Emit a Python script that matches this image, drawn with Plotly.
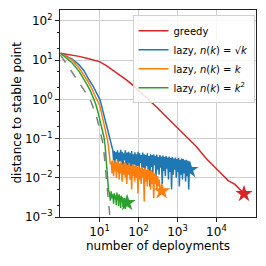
import plotly.graph_objects as go

# ---------------- data ----------------
greedy_k = [1, 2, 3, 5, 7, 10, 15, 20, 30, 50, 70, 100, 150, 200, 300, 500, 700,
            1000, 1400, 2000, 3000, 5600, 10000, 20000, 30000, 51000]
greedy_d = [15, 13.5, 12.5, 11, 10.2, 9.2, 7.3, 6.0, 4.5, 3.1, 2.35, 1.7, 1.2, 0.9,
            0.62, 0.37, 0.27, 0.19, 0.14, 0.095, 0.064, 0.03, 0.017, 0.0085, 0.0068, 0.0039]

sqrt_k = [1, 2, 3, 4, 5, 6, 7, 8, 9, 10, 11, 12, 13, 14, 15, 16, 17, 18, 19, 20, 21,
          22, 23, 24, 25, 26, 28, 29, 30, 32, 33, 35, 37, 38, 40, 42, 44, 46, 48, 51, 53,
          56, 58, 61, 64, 67, 70, 74, 77, 81, 85, 89, 93, 97, 102, 107, 112, 117, 123,
          128, 134, 141, 148, 155, 162, 169, 177, 186, 195, 204, 213, 223, 234, 245, 257,
          269, 281, 295, 309, 323, 338, 354, 371, 388, 407, 426, 446, 467, 489, 512, 536,
          561, 588, 615, 644, 675, 706, 740, 775, 811, 849, 889, 931, 975, 1021, 1069,
          1119, 1172, 1227, 1285, 1345, 1409, 1475, 1545, 1617, 1693, 1773, 1857, 1944,
          2036, 2090]
sqrt_d = [15, 10.7, 7.6, 5.4, 3.6, 2.75, 2.1, 1.6, 1.26, 1.05, 0.76, 0.54, 0.4, 0.3,
          0.23, 0.17, 0.135, 0.107, 0.087, 0.069, 0.057,
          0.05, 0.028, 0.048, 0.02, 0.045, 0.03, 0.05, 0.018, 0.044, 0.026,
          0.052, 0.022, 0.046, 0.016, 0.042, 0.028, 0.05, 0.02, 0.044, 0.014,
          0.046, 0.024, 0.042, 0.018, 0.048, 0.012, 0.04, 0.022, 0.045, 0.016,
          0.04, 0.02, 0.046, 0.009, 0.042, 0.024, 0.038, 0.014, 0.044, 0.018,
          0.04, 0.011, 0.038, 0.02, 0.042, 0.015, 0.036, 0.006, 0.04, 0.019,
          0.038, 0.013, 0.04, 0.021, 0.036, 0.01, 0.039, 0.016, 0.034, 0.012,
          0.038, 0.018, 0.035, 0.007, 0.037, 0.015, 0.034, 0.011, 0.036, 0.017,
          0.033, 0.009, 0.035, 0.014, 0.032, 0.005, 0.034, 0.012, 0.031, 0.016,
          0.033, 0.01, 0.03, 0.014, 0.032, 0.006, 0.029, 0.012, 0.031, 0.009,
          0.03, 0.013, 0.028, 0.008, 0.029, 0.011, 0.027, 0.005, 0.026, 0.016]

lin_k = [1, 2, 3, 4, 5, 6, 7, 8, 9, 10, 11, 12, 13, 14, 15, 16, 17, 18, 19,
         20, 21, 22, 23, 24, 25, 26, 27, 28, 29, 30, 32, 33, 35, 36, 38, 40, 42, 44, 46,
         48, 50, 53, 55, 58, 61, 64, 67, 70, 73, 77, 80, 84, 88, 92, 97, 101, 106, 111,
         117, 122, 128, 134, 141, 147, 154, 162, 169, 177, 186, 195, 204, 214, 224, 234,
         246, 257, 270, 282, 296, 310, 325, 340, 360, 395]
lin_d = [15, 10, 6.3, 4.2, 2.9, 2.1, 1.55, 1.2, 0.93, 0.71, 0.5, 0.35, 0.24, 0.166,
         0.123, 0.093, 0.063, 0.035, 0.022,
         0.026, 0.013, 0.028, 0.011, 0.024, 0.015, 0.029, 0.01, 0.025, 0.014,
         0.027, 0.009, 0.023, 0.013, 0.026, 0.008, 0.022, 0.012, 0.025, 0.01,
         0.023, 0.007, 0.021, 0.012, 0.024, 0.009, 0.02, 0.005, 0.022, 0.011,
         0.02, 0.008, 0.021, 0.01, 0.019, 0.004, 0.02, 0.009, 0.018, 0.007,
         0.019, 0.01, 0.017, 0.0025, 0.018, 0.008, 0.016, 0.006, 0.017, 0.009,
         0.015, 0.005, 0.016, 0.007, 0.014, 0.003, 0.013, 0.007, 0.012, 0.005,
         0.011, 0.006, 0.009, 0.004, 0.0046]

sq_k = [1, 2, 3, 4, 5, 6, 7, 8, 9, 10, 11, 12, 13, 14, 15, 16, 17,
        18, 19, 20, 21, 22, 23, 24, 25, 26, 27, 28, 29, 30, 31, 32, 33, 34, 35, 36, 38,
        39, 40, 42, 43, 44, 46, 48, 49, 51]
sq_d = [15, 8.5, 5.2, 3.3, 2.2, 1.55, 1.07, 0.76, 0.5, 0.33, 0.22, 0.15, 0.11, 0.063,
        0.025, 0.01, 0.005,
        0.004, 0.0026, 0.0045, 0.003, 0.0038, 0.0022, 0.004, 0.0028, 0.0035, 0.002,
        0.0042, 0.0027, 0.0036, 0.0019, 0.0038, 0.0025, 0.0034, 0.0017, 0.0035, 0.0024,
        0.0032, 0.0018, 0.003, 0.0021, 0.0031, 0.0016, 0.0028, 0.002, 0.0023]

bound_k = [1, 2, 3, 4, 5, 6, 7, 8, 9, 10, 11, 12, 13, 14, 15, 16, 17, 18, 19, 20]
bound_d = [13.5, 5.0, 2.75, 1.8, 1.25, 0.9, 0.63, 0.42, 0.28, 0.18, 0.126, 0.083,
           0.045, 0.022, 0.011, 0.0056, 0.0025, 0.0014, 0.0008, 0.00045]

series_names = ["greedy",
                "lazy, <i>n</i>(<i>k</i>) = √<i>k</i>",
                "lazy, <i>n</i>(<i>k</i>) = <i>k</i>",
                "lazy, <i>n</i>(<i>k</i>) = <i>k</i><sup>2</sup>"]
colors = ["#d62728", "#1f77b4", "#ff7f0e", "#2ca02c"]

x_tick_vals = [10, 100, 1000, 10000]
x_tick_text = ["10<sup>1</sup>", "10<sup>2</sup>", "10<sup>3</sup>", "10<sup>4</sup>"]
y_tick_vals = [0.001, 0.01, 0.1, 1, 10, 100]
y_tick_text = ["10<sup>−3</sup>", "10<sup>−2</sup>", "10<sup>−1</sup>",
               "10<sup>0</sup>", "10<sup>1</sup>", "10<sup>2</sup>"]

# ---------------- figure ----------------
fig = go.Figure()
all_k = [greedy_k, sqrt_k, lin_k, sq_k]
all_d = [greedy_d, sqrt_d, lin_d, sq_d]

fig.add_trace(go.Scatter(x=bound_k, y=bound_d, mode="lines", showlegend=False,
                         line=dict(color="#808080", width=1.5, dash="dash")))
for k, d, name, c in zip(all_k, all_d, series_names, colors):
    fig.add_trace(go.Scatter(x=k, y=d, mode="lines", name=name,
                             line=dict(color=c, width=1.5)))
for k, d, c in zip(all_k, all_d, colors):
    fig.add_trace(go.Scatter(x=[k[-1]], y=[d[-1]], mode="markers", showlegend=False,
                             marker=dict(symbol="star", size=13, color=c, line=dict(width=0))))

axis_common = dict(type="log", showgrid=True, gridcolor="#cfcfcf", gridwidth=1,
                   showline=True, linecolor="#222222", linewidth=1, mirror=True,
                   ticks="outside", ticklen=4, tickcolor="#222222", zeroline=False,
                   automargin=False,
                   tickfont=dict(family="DejaVu Sans", size=12, color="black"))

fig.update_xaxes(**axis_common, range=[-0.013, 5.015], tickvals=x_tick_vals,
                 ticktext=x_tick_text,
                 title=dict(text="number of deployments", standoff=2,
                            font=dict(family="DejaVu Sans", size=12, color="black")))
fig.update_yaxes(**axis_common, range=[-3, 2.28], tickvals=y_tick_vals,
                 ticktext=y_tick_text,
                 minor=dict(ticks="outside", ticklen=2, tickcolor="#222222", showgrid=False))

fig.add_annotation(text="distance to stable point", textangle=-90,
                   xref="paper", yref="paper", x=-0.219, y=0.505,
                   xanchor="center", yanchor="middle", showarrow=False,
                   font=dict(family="DejaVu Sans", size=12, color="black"))

fig.update_layout(
    width=266, height=266,
    margin=dict(l=60, r=10, t=10, b=49),
    plot_bgcolor="white", paper_bgcolor="white",
    font=dict(family="DejaVu Sans", size=11, color="black"),
    legend=dict(x=0.37, y=0.975, xanchor="left", yanchor="top",
                bgcolor="rgba(255,255,255,0.85)", bordercolor="#d0d0d0", borderwidth=1,
                font=dict(family="DejaVu Sans", size=10, color="black"),
                tracegroupgap=0, itemwidth=30),
)

fig.write_html("out.html", config={"displayModeBar": False},
               post_script="document.body.style.margin='0';")
